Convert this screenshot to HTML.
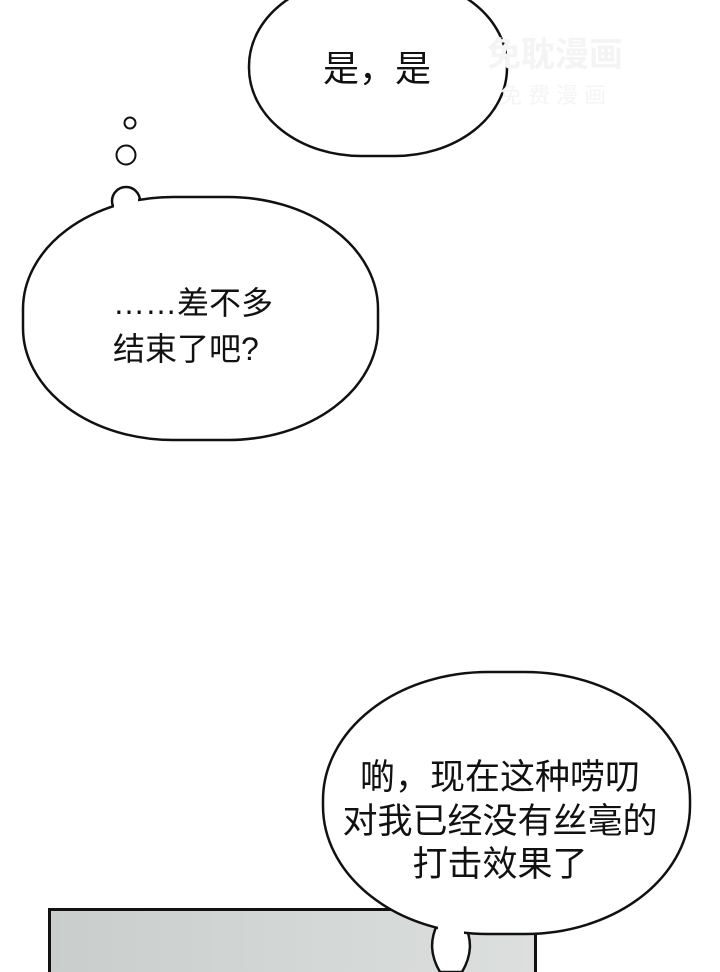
<!DOCTYPE html>
<html><head><meta charset="utf-8"><style>
html,body{margin:0;padding:0;background:#fff;}
svg{display:block;}
text{font-family:"Liberation Sans","Noto Sans CJK SC",sans-serif;fill:#111;}
</style></head><body>
<svg width="720" height="972" viewBox="0 0 720 972" xmlns="http://www.w3.org/2000/svg">
<defs>
<linearGradient id="g" x1="0" y1="0" x2="1" y2="0">
<stop offset="0" stop-color="#c9cecc"/><stop offset="1" stop-color="#dcdfdd"/>
</linearGradient>
</defs>
<rect width="720" height="972" fill="#fff"/>
<rect x="49.5" y="909.5" width="486" height="70" fill="url(#g)" stroke="#111" stroke-width="3"/>
<rect x="249" y="-22" width="258" height="178" rx="112" ry="88" fill="#fff" stroke="#111" stroke-width="2.5"/>
<text x="377" y="81" font-size="36" text-anchor="middle">是，是</text>
<text x="555" y="66" font-size="34" style="fill:#f4f4f4" text-anchor="middle" font-weight="bold">免耽漫画</text>
<text x="553" y="103" font-size="22" style="fill:#f5f5f5" text-anchor="middle">免 费 漫 画</text>
<circle cx="130" cy="123" r="5.5" fill="#fff" stroke="#111" stroke-width="2"/>
<circle cx="126" cy="155" r="9.5" fill="#fff" stroke="#111" stroke-width="2"/>
<circle cx="126" cy="201" r="14" fill="#fff" stroke="#111" stroke-width="2.5"/>
<rect x="23" y="197" width="355" height="243" rx="150" ry="112" fill="#fff" stroke="#111" stroke-width="2.5"/>
<rect x="114" y="198" width="24" height="14" fill="#fff"/>
<text x="113" y="314" font-size="32">……差不多</text>
<text x="113" y="360" font-size="32">结束了吧?</text>
<path d="M437 925 C430 940 430 955 440 972 L462 972 C472 955 472 940 465 925 Z" fill="#fff" stroke="#111" stroke-width="2.5"/>
<rect x="323" y="672" width="367" height="262" rx="165" ry="128" fill="#fff" stroke="#111" stroke-width="2.5"/>
<rect x="438" y="926" width="26" height="12" fill="#fff"/>
<text x="500" y="789" font-size="35" text-anchor="middle">啲，现在这种唠叨</text>
<text x="500" y="833" font-size="35" text-anchor="middle">对我已经没有丝毫的</text>
<text x="500" y="876" font-size="35" text-anchor="middle">打击效果了</text>
</svg>
</body></html>
